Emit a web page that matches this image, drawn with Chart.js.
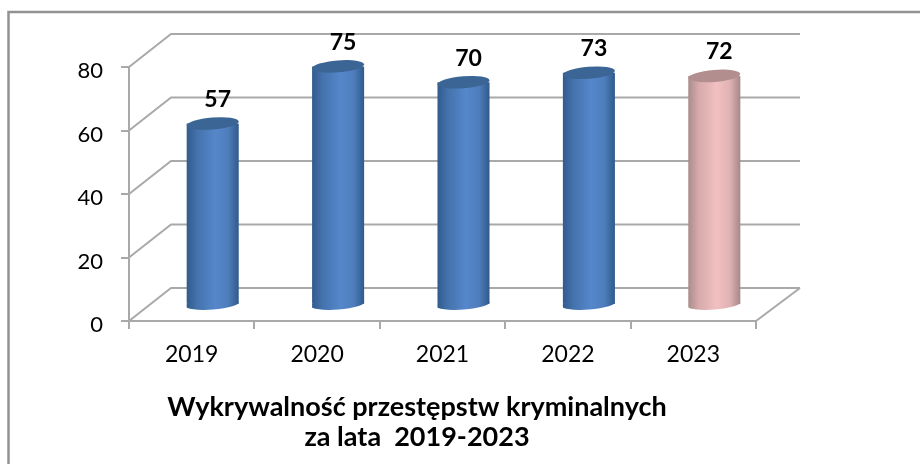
<!DOCTYPE html>
<html lang="pl">
<head>
<meta charset="utf-8">
<style>html,body{margin:0;padding:0;background:#fff}canvas{display:block;filter:blur(0.45px)}</style>
<script src="https://cdn.jsdelivr.net/npm/chart.js@4/dist/chart.umd.min.js"></script>
</head>
<body>
<canvas id="c" width="920" height="464"></canvas>
<script>
const categories = ['2019', '2020', '2021', '2022', '2023'];
const values = [57, 75, 70, 73, 72];
const yTicks = [0, 20, 40, 60, 80];
const titleLines = ['Wykrywalność przestępstw kryminalnych', 'za lata  2019-2023'];
const blueShades = ['#315b8d', '#4472ac', '#5587cb', '#4e7dbb', '#2f5a8c'];
const pinkShades = ['#a98c8c', '#d8aaab', '#f2c0c1', '#e0b2b3', '#a58788'];
const capColors = ['#3b6595', '#3b6595', '#3b6595', '#3b6595', '#b28e8e'];
const barShades = [blueShades, blueShades, blueShades, blueShades, pinkShades];

const FONT = 'Lato, Carlito, sans-serif';
const GRID = '#a9a9a9';
const DEPTH_X = 42, DEPTH_Y = -33;
const CAP_RY = 6, CAP_TILT = -0.08;

function sideGradient(c, left, right, shades) {
  const g = c.createLinearGradient(left, 0, right, 0);
  [0, 0.2, 0.55, 0.8, 1].forEach((s, i) => g.addColorStop(s, shades[i]));
  return g;
}
function barFill(ctx) {
  const chart = ctx.chart, x = chart.scales.x;
  if (!x || !x.width) return barShades[ctx.dataIndex][2];
  const cx = x.getPixelForValue(ctx.dataIndex);
  const w = x.width / categories.length * 0.415;
  return sideGradient(chart.ctx, cx - w / 2, cx + w / 2, barShades[ctx.dataIndex]);
}

const scene3d = {
  id: 'scene3d',
  afterLayout(chart) {
    // centre the two-line title under the drawing as a whole, not the full page
    const t = chart.titleBlock;
    if (t) { t.left = 0; t.right = 834; }
  },
  beforeDraw(chart) {
    const c = chart.ctx;
    c.save();
    c.strokeStyle = '#929292'; c.lineWidth = 2.5;
    c.beginPath();
    c.moveTo(920, 12); c.lineTo(8.5, 12); c.lineTo(8.5, 464);
    c.stroke();
    c.restore();
  },
  beforeDatasetsDraw(chart) {
    const c = chart.ctx, { x, y } = chart.scales;
    const l = x.left, r = x.right;
    c.save();
    c.strokeStyle = GRID; c.lineWidth = 2;
    yTicks.forEach(v => {
      const py = y.getPixelForValue(v);
      c.beginPath();
      c.moveTo(l, py); c.lineTo(l + DEPTH_X, py + DEPTH_Y); c.lineTo(r + DEPTH_X + 2, py + DEPTH_Y);
      c.stroke();
    });
    const by = y.getPixelForValue(0);
    c.beginPath();
    c.moveTo(r, by); c.lineTo(r + DEPTH_X + 2, by + DEPTH_Y);
    c.stroke();
    c.restore();

    // bottom curve of each cylinder, under the shifted bar body
    const meta = chart.getDatasetMeta(0);
    c.save();
    c.translate(DEPTH_X / 2, DEPTH_Y / 2);
    meta.data.forEach((b, i) => {
      c.save();
      c.beginPath();
      c.rect(b.x - b.width / 2, b.base - 1, b.width, 14);
      c.clip();
      c.fillStyle = sideGradient(c, b.x - b.width / 2, b.x + b.width / 2, barShades[i]);
      c.beginPath();
      c.ellipse(b.x, b.base, b.width / 2 + 1.5, CAP_RY, CAP_TILT, 0, Math.PI * 2);
      c.fill();
      c.restore();
    });
    c.restore();
    // body of the bars is drawn by Chart.js, pushed to mid-depth
    c.save();
    c.translate(DEPTH_X / 2, DEPTH_Y / 2);
  },
  afterDatasetsDraw(chart) {
    const c = chart.ctx;
    c.restore();
    const meta = chart.getDatasetMeta(0);
    c.save();
    c.translate(DEPTH_X / 2, DEPTH_Y / 2);
    meta.data.forEach((b, i) => {
      c.fillStyle = capColors[i];
      c.beginPath();
      c.ellipse(b.x, b.y, b.width / 2, CAP_RY, CAP_TILT, 0, Math.PI * 2);
      c.fill();
    });
    c.restore();
    c.save();
    c.fillStyle = '#000';
    c.font = 'bold 23px ' + FONT;
    c.textAlign = 'center';
    c.textBaseline = 'middle';
    meta.data.forEach((b, i) => {
      c.fillText(String(values[i]), b.x + DEPTH_X / 2 + 5, b.y + DEPTH_Y / 2 - 24);
    });
    c.restore();
  }
};

new Chart(document.getElementById('c'), {
  type: 'bar',
  data: {
    labels: categories,
    datasets: [{
      data: values,
      backgroundColor: barFill,
      borderWidth: 0,
      barPercentage: 1,
      categoryPercentage: 0.415
    }]
  },
  plugins: [scene3d],
  options: {
    responsive: false,
    animation: false,
    layout: { padding: { left: 0, right: 164, top: 67, bottom: 12 } },
    plugins: {
      legend: { display: false },
      tooltip: { enabled: false },
      title: {
        display: true,
        text: titleLines,
        position: 'bottom',
        color: '#000',
        font: { family: FONT, size: 27, weight: 'bold', lineHeight: 1.11 },
        padding: { top: 0, bottom: 0 }
      }
    },
    scales: {
      x: {
        grid: { drawOnChartArea: false, drawTicks: true, tickLength: 8, color: GRID, lineWidth: 2, offset: true },
        border: { color: GRID, width: 2 },
        ticks: { color: '#000', font: { family: FONT, size: 23 }, padding: 12, maxRotation: 0 },
        afterFit(s) { s.height = 71; }
      },
      y: {
        min: 0, max: 80,
        grid: { drawOnChartArea: false, drawTicks: true, tickLength: 8, color: GRID, lineWidth: 2 },
        border: { color: GRID, width: 2 },
        ticks: { color: '#000', font: { family: FONT, size: 22 }, padding: 18, stepSize: 20, labelOffset: 4 },
        afterFit(s) { s.width = 129; }
      }
    }
  }
});
</script>
</body>
</html>
